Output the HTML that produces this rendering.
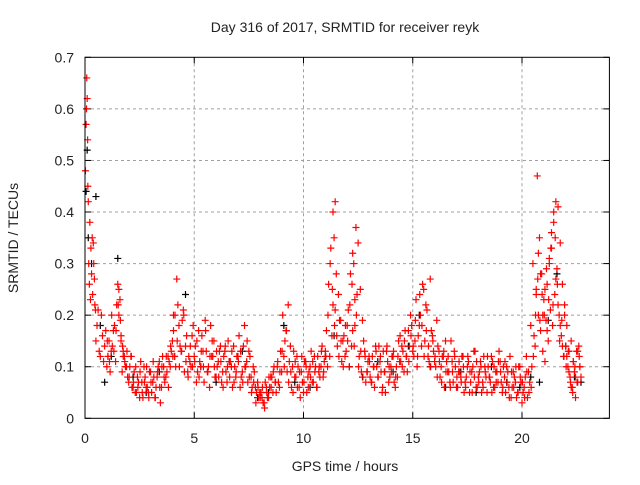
<!DOCTYPE html>
<html><head><meta charset="utf-8"><style>
body{margin:0;background:#fff;font-family:"Liberation Sans",sans-serif;}
svg text{font-family:"Liberation Sans",sans-serif;font-size:14px;fill:#222;}
</style></head><body>
<svg id="chart" width="640" height="480" viewBox="0 0 640 480" xmlns="http://www.w3.org/2000/svg">
<rect x="0" y="0" width="640" height="480" fill="#fff"/>
<text x="345" y="32" text-anchor="middle">Day 316 of 2017, SRMTID for receiver reyk</text>
<g id="grid"></g>
<g id="ticks"></g>
<g id="blackpts"></g>
<g id="redpts"></g>
<rect x="85" y="57.3" width="524.4" height="361" fill="none" stroke="#000" stroke-width="1"/>
<text x="345" y="471" text-anchor="middle">GPS time / hours</text>
<text transform="translate(18,238) rotate(-90)" text-anchor="middle">SRMTID / TECUs</text>
</svg>
<script>
const xTicks=[0,5,10,15,20];
const yTicks=[0,0.1,0.2,0.3,0.4,0.5,0.6,0.7];
const yTickLabels=["0","0.1","0.2","0.3","0.4","0.5","0.6","0.7"];
const redT=[0.02,0.05,0.07,0.08,0.1,0.12,0.13,0.15,0.17,0.2,0.22,0.25,0.27,0.3,0.33,0.35,0.38,0.4,0.43,0.45,0.48,0.5,0.55,0.6,0.65,0.7,0.75,0.8,0.85,0.9,0.95,1.0,1.05,1.1,1.2,1.3,1.4,1.5,1.55,1.6,1.65,1.7,1.75,1.8,1.9,2.0,2.1,2.2,2.3,2.4,2.5,2.6,2.7,2.8,2.9,3.0,3.1,3.2,3.3,3.4,3.5,3.6,3.7,3.8,3.9,4.0,4.05,4.1,4.2,4.3,4.4,4.5,4.6,4.7,4.8,4.9,5.0,5.1,5.2,5.3,5.4,5.5,5.6,5.7,5.8,5.9,6.0,6.1,6.2,6.3,6.4,6.5,6.6,6.7,6.8,6.9,7.0,7.1,7.2,7.3,7.4,7.5,7.6,7.7,7.8,7.9,8.0,8.1,8.2,8.3,8.4,8.5,8.6,8.7,8.8,8.9,9.0,9.1,9.2,9.3,9.4,9.5,9.6,9.7,9.8,9.9,10.0,10.1,10.2,10.3,10.4,10.5,10.6,10.7,10.8,10.9,11.0,11.1,11.2,11.3,11.35,11.4,11.45,11.5,11.6,11.7,11.8,11.9,12.0,12.1,12.2,12.25,12.3,12.35,12.4,12.5,12.6,12.7,12.8,12.9,13.0,13.1,13.2,13.3,13.4,13.5,13.6,13.7,13.8,13.9,14.0,14.1,14.2,14.3,14.4,14.5,14.6,14.7,14.8,14.9,15.0,15.1,15.2,15.3,15.4,15.5,15.6,15.7,15.8,15.9,16.0,16.1,16.2,16.3,16.4,16.5,16.6,16.7,16.8,16.9,17.0,17.1,17.2,17.3,17.4,17.5,17.6,17.7,17.8,17.9,18.0,18.1,18.2,18.3,18.4,18.5,18.6,18.7,18.8,18.9,19.0,19.1,19.2,19.3,19.4,19.5,19.6,19.7,19.8,19.9,20.0,20.1,20.2,20.3,20.4,20.5,20.6,20.65,20.7,20.75,20.8,20.85,20.9,20.95,21.0,21.05,21.1,21.15,21.2,21.25,21.3,21.35,21.4,21.45,21.5,21.55,21.6,21.65,21.7,21.75,21.8,21.85,21.9,21.95,22.0,22.05,22.1,22.15,22.2,22.25,22.3,22.35,22.4,22.45,22.5,22.55,22.6,22.65,22.7];
const redV=[0.48,0.57,0.6,0.66,0.62,0.54,0.45,0.42,0.3,0.26,0.38,0.23,0.33,0.28,0.35,0.24,0.34,0.3,0.27,0.22,0.21,0.15,0.18,0.21,0.13,0.12,0.2,0.16,0.11,0.14,0.17,0.1,0.12,0.15,0.13,0.17,0.11,0.26,0.2,0.23,0.15,0.09,0.13,0.12,0.1,0.07,0.12,0.06,0.05,0.08,0.04,0.07,0.1,0.06,0.05,0.09,0.07,0.04,0.08,0.11,0.06,0.1,0.08,0.12,0.1,0.15,0.2,0.12,0.27,0.18,0.13,0.21,0.14,0.09,0.11,0.16,0.12,0.07,0.17,0.1,0.13,0.19,0.09,0.06,0.12,0.15,0.08,0.11,0.14,0.09,0.13,0.07,0.11,0.1,0.14,0.08,0.12,0.06,0.09,0.18,0.11,0.13,0.08,0.1,0.06,0.07,0.05,0.04,0.03,0.06,0.04,0.08,0.05,0.07,0.1,0.06,0.09,0.12,0.17,0.22,0.14,0.1,0.08,0.12,0.06,0.09,0.05,0.11,0.08,0.1,0.07,0.12,0.06,0.09,0.1,0.08,0.13,0.1,0.12,0.16,0.22,0.35,0.42,0.28,0.24,0.19,0.15,0.12,0.18,0.1,0.14,0.17,0.3,0.23,0.37,0.34,0.25,0.19,0.13,0.09,0.12,0.07,0.1,0.14,0.08,0.11,0.05,0.09,0.13,0.07,0.1,0.12,0.06,0.08,0.11,0.14,0.09,0.12,0.17,0.2,0.13,0.15,0.1,0.18,0.14,0.25,0.22,0.12,0.27,0.16,0.11,0.19,0.13,0.1,0.12,0.15,0.09,0.07,0.11,0.13,0.06,0.09,0.08,0.12,0.07,0.1,0.05,0.09,0.13,0.06,0.08,0.11,0.07,0.1,0.05,0.08,0.12,0.06,0.09,0.07,0.11,0.05,0.08,0.1,0.06,0.04,0.09,0.07,0.05,0.1,0.03,0.06,0.12,0.09,0.18,0.3,0.14,0.25,0.47,0.2,0.35,0.17,0.28,0.13,0.23,0.11,0.19,0.26,0.15,0.31,0.21,0.33,0.18,0.38,0.24,0.42,0.29,0.41,0.2,0.34,0.16,0.26,0.12,0.22,0.14,0.18,0.1,0.13,0.08,0.15,0.06,0.11,0.09,0.04,0.13,0.07,0.14,0.1,0.08];
// hourly sample blocks: start hour, and ten samples per hour (6-minute cadence)
const segHours=[1,2,3,4,5,6,7,8,9,10,11,12,13,14,15,16,17,18,19,20,21,22];
const redSegA=[[.12,.09,.14,.18,.22,.25,.16,.12,.1,.08],[.1,.06,.09,.05,.07,.11,.04,.08,.06,.09],[.05,.08,.06,.1,.03,.12,.07,.09,.11,.13],[.17,.1,.22,.14,.19,.09,.16,.12,.1,.18],[.14,.09,.11,.16,.07,.13,.1,.18,.12,.08],[.1,.13,.07,.12,.09,.15,.11,.06,.1,.12],[.16,.08,.14,.1,.07,.12,.06,.09,.05,.04],[.05,.03,.07,.04,.06,.08,.1,.05,.07,.13],[.2,.15,.09,.11,.06,.13,.08,.1,.04,.07],[.11,.05,.09,.13,.07,.1,.12,.08,.14,.11],[.17,.26,.33,.4,.21,.14,.19,.11,.16,.13],[.21,.28,.32,.18,.24,.12,.09,.15,.07,.11],[.08,.12,.06,.1,.14,.09,.13,.05,.11,.08],[.12,.07,.1,.15,.11,.13,.17,.09,.14,.18],[.12,.23,.16,.2,.26,.15,.21,.11,.17,.13],[.1,.14,.08,.12,.06,.11,.09,.15,.07,.1],[.06,.09,.12,.05,.08,.11,.07,.1,.13,.06],[.09,.05,.12,.08,.1,.07,.11,.06,.09,.13],[.07,.1,.05,.09,.12,.06,.08,.04,.1,.07],[.05,.08,.04,.07,.1,.16,.24,.32,.28,.2],[.25,.17,.3,.36,.4,.27,.22,.18,.14,.2],[.12,.09,.06,.11,.08,.13,.1]];
const redSegB=[[.15,.11,.2,.13,.17,.22,.19,.14,.11,.13],[.08,.12,.07,.1,.06,.09,.05,.07,.1,.04],[.07,.11,.04,.09,.06,.1,.08,.12,.06,.14],[.12,.2,.15,.1,.13,.2,.11,.08,.14,.1],[.11,.15,.08,.13,.1,.17,.09,.12,.15,.1],[.13,.08,.11,.06,.14,.1,.08,.13,.07,.09],[.11,.13,.07,.1,.15,.08,.05,.07,.03,.06],[.04,.06,.02,.05,.08,.06,.09,.07,.11,.09],[.13,.1,.17,.07,.09,.05,.11,.06,.09,.12],[.07,.1,.06,.08,.11,.09,.06,.1,.13,.09],[.12,.2,.3,.25,.18,.16,.12,.15,.1,.18],[.15,.22,.26,.14,.2,.1,.13,.08,.12,.09],[.11,.07,.1,.13,.08,.12,.06,.09,.14,.1],[.09,.13,.08,.12,.16,.1,.15,.12,.11,.16],[.14,.19,.12,.24,.18,.12,.17,.14,.1,.15],[.12,.08,.11,.07,.13,.09,.12,.06,.09,.12],[.08,.11,.07,.1,.06,.12,.09,.05,.08,.11],[.07,.1,.06,.09,.12,.08,.05,.1,.07,.11],[.09,.06,.11,.07,.04,.09,.06,.1,.05,.08],[.07,.04,.09,.05,.06,.12,.2,.27,.19,.24],[.2,.29,.23,.33,.22,.35,.26,.15,.19,.12],[.1,.13,.07,.05,.1,.07,.12]];
const blackT=[0.05,0.1,0.15,0.3,0.5,0.7,0.9,1.2,1.5,2.2,2.8,3.4,4.1,4.6,5.3,6.0,6.6,7.2,7.9,8.4,9.1,9.6,10.3,11.0,11.4,12.1,12.7,13.4,14.1,14.8,15.3,15.8,16.5,17.2,17.9,18.6,19.3,19.9,20.4,20.8,21.2,21.6,22.0,22.4,22.7];
const blackV=[0.44,0.52,0.35,0.3,0.43,0.18,0.07,0.12,0.31,0.08,0.05,0.09,0.12,0.24,0.1,0.07,0.11,0.13,0.04,0.05,0.18,0.07,0.06,0.12,0.16,0.1,0.08,0.11,0.09,0.14,0.2,0.1,0.06,0.09,0.05,0.1,0.07,0.06,0.08,0.07,0.19,0.28,0.14,0.08,0.07];
const X0=85,X1=609.4,Y0=418.3,Y1=57.3,XMAX=24,YMAX=0.7;
const xs=t=>X0+(X1-X0)*t/XMAX;
const ys=v=>Y0-(Y0-Y1)*v/YMAX;
const NS="http://www.w3.org/2000/svg";
const grid=document.getElementById('grid'),ticks=document.getElementById('ticks');
function mk(tag,attrs,parent){const e=document.createElementNS(NS,tag);for(const k in attrs)e.setAttribute(k,attrs[k]);parent.appendChild(e);return e;}
xTicks.forEach(t=>{const x=xs(t);
 if(t>0){const g=mk('line',{x1:x,x2:x,y1:Y1,y2:Y0,stroke:'#a0a0a0','stroke-dasharray':'3,3'},grid);
 
 }
 mk('line',{x1:x,x2:x,y1:Y0,y2:Y0-6,stroke:'#000'},ticks);mk('line',{x1:x,x2:x,y1:Y1,y2:Y1+6,stroke:'#000'},ticks);
 const l=mk('text',{x:x,y:443,'text-anchor':'middle'},ticks);l.textContent=String(t);
 
 });
yTicks.forEach((v,i)=>{const y=ys(v);
 if(v>0&&v<0.7){const g=mk('line',{x1:X0,x2:X1,y1:y,y2:y,stroke:'#a0a0a0','stroke-dasharray':'3,3'},grid);
 
 }
 mk('line',{x1:X0,x2:X0+6,y1:y,y2:y,stroke:'#000'},ticks);mk('line',{x1:X1,x2:X1-6,y1:y,y2:y,stroke:'#000'},ticks);
 const l=mk('text',{x:74,y:y+5,'text-anchor':'end'},ticks);l.textContent=yTickLabels[i];
 
 });
function flatten(segs,offset){const T=[],V=[];segs.forEach((s,k)=>s.forEach((v,i)=>{T.push(segHours[k]+(i+offset)/10);V.push(v);}));return [T,V];}
function plot(T,V,color,gid,name){const g=document.getElementById(gid);let d='';
 T.forEach((t,i)=>{const x=xs(t),y=ys(V[i]);d+=`M${x-3.5},${y}h7M${x},${y-3.5}v7`;});
 const p=mk('path',{d:d,stroke:color,'stroke-width':1.2,fill:'none'},g);
 
 }
plot(blackT,blackV,'#000','blackpts','black-points');
plot(redT,redV,'#ff0000','redpts','red-points');
const a=flatten(redSegA,0.5),b=flatten(redSegB,0.2);
plot(a[0],a[1],'#ff0000','redpts','red-points-a');
plot(b[0],b[1],'#ff0000','redpts','red-points-b');
</script>
</body></html>
